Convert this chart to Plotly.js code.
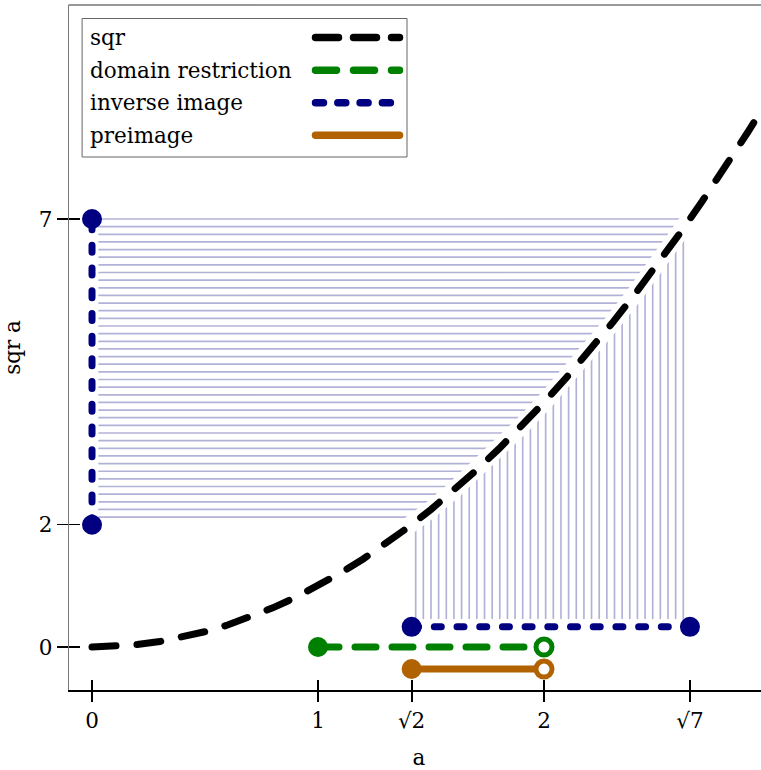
<!DOCTYPE html>
<html>
<head>
<meta charset="utf-8">
<script src="https://cdn.plot.ly/plotly-3.0.1.min.js"></script>
<style>html,body{margin:0;padding:0;background:#fff;}#chart{width:761px;height:770px;}</style>
</head>
<body>
<div id="chart"></div>
<script>
// ---- data ----
const sqrX = [0,0.1,0.2,0.3,0.4,0.5,0.6,0.7,0.8,0.9,1.0,1.1,1.2,1.3,1.4,1.5,1.6,1.7,1.8,1.9,2.0,2.1,2.2,2.3,2.4,2.5,2.6,2.7,2.8,2.9,3.0];
const sqrY = [0,0.01,0.04,0.09,0.16,0.25,0.36,0.49,0.64,0.81,1,1.21,1.44,1.69,1.96,2.25,2.56,2.89,3.24,3.61,4,4.41,4.84,5.29,5.76,6.25,6.76,7.29,7.84,8.41,9];

// horizontal hatch levels (sqr a) and where each meets the curve (a)
const hatchLevels = [2.125,2.25,2.375,2.5,2.625,2.75,2.875,3.0,3.125,3.25,3.375,3.5,3.625,3.75,3.875,4.0,4.125,4.25,4.375,4.5,4.625,4.75,4.875,5.0,5.125,5.25,5.375,5.5,5.625,5.75,5.875,6.0,6.125,6.25,6.375,6.5,6.625,6.75,6.875,7.0];
const hatchEnds = [1.4577,1.5,1.5411,1.5811,1.6202,1.6583,1.6956,1.7321,1.7678,1.8028,1.8371,1.8708,1.9039,1.9365,1.9685,2.0,2.0310,2.0616,2.0917,2.1213,2.1506,2.1794,2.2079,2.2361,2.2638,2.2913,2.3184,2.3452,2.3717,2.3979,2.4238,2.4495,2.4749,2.5,2.5249,2.5495,2.5739,2.5981,2.6220,2.6458];
const hatchStartX = 0.031;

// vertical hatch positions (a) and where each meets the curve (sqr a)
const vHatchX = [1.4323,1.4661,1.5000,1.5338,1.5676,1.6015,1.6353,1.6691,1.7029,1.7368,1.7706,1.8044,1.8383,1.8721,1.9059,1.9398,1.9736,2.0074,2.0413,2.0751,2.1089,2.1428,2.1766,2.2104,2.2442,2.2781,2.3119,2.3457,2.3796,2.4134,2.4472,2.4811,2.5149,2.5487,2.5826,2.6164];
const vHatchTop = [2.0515,2.1495,2.25,2.3525,2.4574,2.5648,2.6742,2.7859,2.8999,3.0165,3.1350,3.2559,3.3793,3.5048,3.6325,3.7628,3.8951,4.0297,4.1669,4.3060,4.4475,4.5916,4.7376,4.8859,5.0364,5.1897,5.3449,5.5023,5.6625,5.8245,5.9888,6.1559,6.3247,6.4959,6.6698,6.8456];
const vHatchBottom = 0.47;

const inverseImageVX = [0,0];
const inverseImageVY = [2,7];
const inverseImageHX = [1.41421,2.64575];
const inverseImageHY = [0.33,0.33];
const domainX = [1,2];
const domainY = [0,0];
const preimageX = [1.41421,2];
const preimageY = [-0.36,-0.36];

const xTickVals = [0,1,1.41421,2,2.64575];
const xTickText = ['0','1','√2','2','√7'];
const yTickVals = [0,2,7];
const yTickText = ['0','2','7'];

const legendNames = ['sqr','domain restriction','inverse image','preimage'];
const legendColors = ['#000000','#008000','#000080','#b06300'];
const legendDash = ['23px,15px','21px,17px','8px,14.3px','solid'];

// ---- build ----
const FONT = 'DejaVu Serif';
const FS = 21.5;
const hx = [], hy = [];
hatchLevels.forEach((lv,i)=>{ hx.push(hatchStartX, hatchEnds[i], null); hy.push(lv, lv, null); });
const vx = [], vy = [];
vHatchX.forEach((x,i)=>{ vx.push(x, x, null); vy.push(vHatchBottom, vHatchTop[i], null); });
const hatchColor = 'rgba(0,0,128,0.3)';

const traces = [
  {x:hx, y:hy, mode:'lines', line:{color:hatchColor, width:1.7}, hoverinfo:'skip', showlegend:false},
  {x:vx, y:vy, mode:'lines', line:{color:hatchColor, width:1.7}, hoverinfo:'skip', showlegend:false},
  {x:sqrX, y:sqrY, mode:'lines', line:{color:'#ffffff', width:17}, hoverinfo:'skip', showlegend:false},
  {x:sqrX, y:sqrY, mode:'lines', name:'sqr', line:{color:legendColors[0], width:7, dash:'24px,21px'}, showlegend:false},
  {x:inverseImageVX, y:inverseImageVY, mode:'lines+markers', line:{color:legendColors[2], width:7, dash:'7px,15.7px'},
   marker:{size:20, color:legendColors[2], opacity:1}, showlegend:false},
  {x:inverseImageHX, y:inverseImageHY, mode:'lines+markers', line:{color:legendColors[2], width:7, dash:'7px,15.7px'},
   marker:{size:20, color:legendColors[2], opacity:1}, showlegend:false},
  {x:domainX, y:domainY, mode:'lines+markers', line:{color:legendColors[1], width:7, dash:'21px,16px'},
   marker:{size:[20,16], opacity:1, color:[legendColors[1],'#ffffff'], line:{color:legendColors[1], width:[0,5]}}, showlegend:false},
  {x:preimageX, y:preimageY, mode:'lines+markers', line:{color:legendColors[3], width:7},
   marker:{size:[20,16], opacity:1, color:[legendColors[3],'#ffffff'], line:{color:legendColors[3], width:[0,5]}}, showlegend:false},
  {x:[0], y:[0], xaxis:'x2', yaxis:'y2', mode:'markers', marker:{opacity:0}, hoverinfo:'skip', showlegend:false}
];

const xRange = [-0.1018, 2.9602];
const yRange = [-0.703, 10.50];

// manual legend (symbols on the right)
const W = 692, H = 685, L = 69, T = 5;
const px = v => (v - L) / W;
const py = v => (T + H - v) / H;
const legendRows = [37.5, 70.3, 102.8, 135.3];
const shapes = [
  {type:'line', xref:'paper', yref:'paper', x0:0, x1:1, y0:1, y1:1, line:{color:'#777', width:1.3}},
  {type:'rect', xref:'paper', yref:'paper', x0:px(82.5), x1:px(407), y0:py(157), y1:py(18.5), line:{color:'#666', width:1}, fillcolor:'#ffffff', layer:'above'}
];
const annotations = [];
legendNames.forEach((n,i)=>{
  shapes.push({type:'line', xref:'paper', yref:'paper', x0:px(315.5), x1:px(399.5), y0:py(legendRows[i]), y1:py(legendRows[i]),
    line:{color:legendColors[i], width:7.5, dash:legendDash[i]}, layer:'above'});
  annotations.push({xref:'paper', yref:'paper', x:px(88), y:py(legendRows[i]), xanchor:'left', yanchor:'middle', showarrow:false,
    text:n, font:{family:FONT, size:FS, color:'#000'}});
});

const layout = {
  width:761, height:770,
  margin:{l:69, r:0, t:5, b:80, pad:0},
  paper_bgcolor:'#fff', plot_bgcolor:'#fff',
  font:{family:FONT, size:FS, color:'#000'},
  showlegend:false,
  xaxis:{range:xRange, tickvals:xTickVals, ticktext:xTickText, ticks:'outside', ticklen:10, tickwidth:2, tickcolor:'#000',
    showline:true, linecolor:'#000', linewidth:1.7, showgrid:false, zeroline:false, fixedrange:true,
    tickfont:{family:FONT, size:FS, color:'#000'}, title:{text:'a', font:{family:FONT, size:FS, color:'#000'}}},
  yaxis:{range:yRange, tickvals:yTickVals, ticktext:yTickText, ticks:'outside', ticklen:11, tickwidth:1.5, tickcolor:'#000',
    showline:true, linecolor:'#777', linewidth:1.3, showgrid:false, zeroline:false, fixedrange:true,
    tickfont:{family:FONT, size:FS, color:'#000'}, title:{text:'sqr a', font:{family:FONT, size:FS, color:'#000'}}},
  xaxis2:{range:xRange, overlaying:'x', anchor:'y2', side:'bottom', tickvals:xTickVals, ticks:'inside', ticklen:10, tickwidth:2, tickcolor:'#000',
    showticklabels:false, showline:false, showgrid:false, zeroline:false, fixedrange:true},
  yaxis2:{range:yRange, overlaying:'y', anchor:'x2', side:'left', tickvals:yTickVals, ticks:'inside', ticklen:11, tickwidth:1.5, tickcolor:'#000',
    showticklabels:false, showline:false, showgrid:false, zeroline:false, fixedrange:true},
  shapes:shapes,
  annotations:annotations
};

Plotly.newPlot('chart', traces, layout, {staticPlot:true, displayModeBar:false}).then(gd=>{
  gd.querySelectorAll('.scatterlayer path.js-line, .shapelayer path').forEach(p=>{
    p.style.strokeLinecap = 'round';
  });
  const yt = gd.querySelector('.g-ytitle');
  if (yt) yt.setAttribute('transform', 'translate(4,0)');
  const xt = gd.querySelector('.g-xtitle');
  if (xt) xt.setAttribute('transform', 'translate(4,0)');
});
</script>
</body>
</html>
